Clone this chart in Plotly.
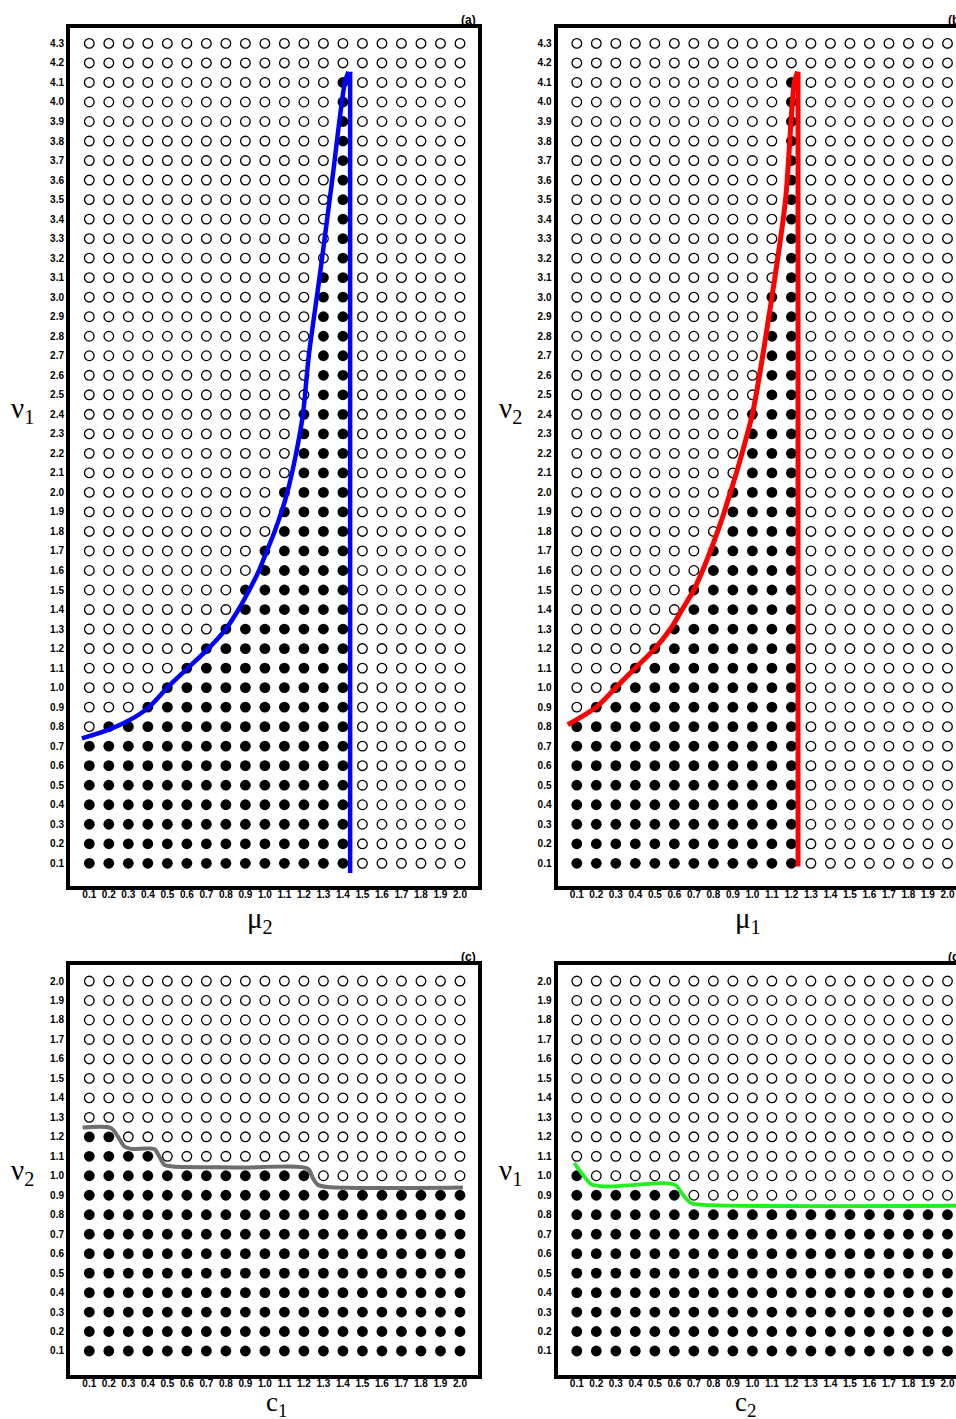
import plotly.graph_objects as go

# ---------------- data ----------------
grid_x = [0.1, 0.2, 0.3, 0.4, 0.5, 0.6, 0.7, 0.8, 0.9, 1.0,
          1.1, 1.2, 1.3, 1.4, 1.5, 1.6, 1.7, 1.8, 1.9, 2.0]
grid_y_top = [0.1, 0.2, 0.3, 0.4, 0.5, 0.6, 0.7, 0.8, 0.9, 1.0,
              1.1, 1.2, 1.3, 1.4, 1.5, 1.6, 1.7, 1.8, 1.9, 2.0,
              2.1, 2.2, 2.3, 2.4, 2.5, 2.6, 2.7, 2.8, 2.9, 3.0,
              3.1, 3.2, 3.3, 3.4, 3.5, 3.6, 3.7, 3.8, 3.9, 4.0,
              4.1, 4.2, 4.3]
grid_y_bot = [0.1, 0.2, 0.3, 0.4, 0.5, 0.6, 0.7, 0.8, 0.9, 1.0,
              1.1, 1.2, 1.3, 1.4, 1.5, 1.6, 1.7, 1.8, 1.9, 2.0]

# filled (stable) dots: first and last filled column per row (None = no filled dot)
a_first = [0.1] * 7 + [0.2, 0.4, 0.5, 0.6, 0.7, 0.8, 0.9, 0.9, 1.0, 1.0, 1.1, 1.1, 1.1] \
          + [1.2] * 4 + [1.3] * 7 + [1.4] * 10 + [None, None]
a_last = [1.4] * 41 + [None, None]

b_first = [0.1] * 8 + [0.2, 0.3, 0.4, 0.5, 0.6, 0.7, 0.7, 0.8, 0.8, 0.9, 0.9, 0.9] \
          + [1.0] * 4 + [1.1] * 6 + [1.2] * 11 + [None, None]
b_last = [1.2] * 41 + [None, None]

c_first = [0.1] * 12 + [None] * 8
c_last = [2.0] * 9 + [1.2, 0.4, 0.2] + [None] * 8

d_first = [0.1] * 10 + [None] * 10
d_last = [2.0] * 8 + [0.6, 0.1] + [None] * 10

# boundary curves
a_curve_x = [0.062, 0.2, 0.3, 0.4, 0.5, 0.605, 0.71, 0.8, 0.865, 0.92, 0.97, 1.01,
             1.05, 1.085, 1.115, 1.16, 1.195, 1.225, 1.28, 1.345, 1.41, 1.428]
a_curve_y = [0.74, 0.785, 0.83, 0.895, 1.0, 1.1, 1.2, 1.3, 1.4, 1.5, 1.6, 1.7,
             1.8, 1.9, 2.0, 2.2, 2.4, 2.7, 3.1, 3.6, 4.1, 4.155]
a_vline_x = [1.437, 1.437]
a_vline_y = [4.155, 0.05]

b_curve_x = [0.054, 0.2, 0.3, 0.4, 0.5, 0.58, 0.64, 0.7, 0.745, 0.785, 0.822, 0.856,
             0.887, 0.918, 0.947, 0.974, 1.0, 1.1, 1.17, 1.215, 1.232]
b_curve_y = [0.81, 0.9, 1.0, 1.1, 1.2, 1.3, 1.4, 1.5, 1.6, 1.7, 1.8, 1.9,
             2.0, 2.1, 2.2, 2.3, 2.4, 3.0, 3.5, 4.1, 4.155]
b_vline_x = [1.234, 1.234]
b_vline_y = [4.155, 0.083]

c_curve_x = [0.066, 0.211, 0.246, 0.28, 0.314, 0.433, 0.459, 0.485, 0.528, 0.878,
             1.22, 1.246, 1.271, 1.323, 2.015]
c_curve_y = [1.248, 1.245, 1.202, 1.15, 1.138, 1.137, 1.099, 1.056, 1.048, 1.043,
             1.036, 0.988, 0.954, 0.942, 0.94]

d_curve_x = [0.088, 0.131, 0.173, 0.242, 0.378, 0.549, 0.609, 0.644, 0.686, 0.754, 2.06]
d_curve_y = [1.065, 1.005, 0.957, 0.945, 0.952, 0.962, 0.95, 0.902, 0.86, 0.85, 0.846]

# ---------------- layout geometry ----------------
W, H = 956, 1419
LEFT_X = (70, 478)
RIGHT_X = (557.5, 956)
TOP_Y = (28, 886)
BOT_Y = (964.5, 1375)


def xdom(p):
    return [p[0] / W, p[1] / W]


def ydom(p):
    return [1 - p[1] / H, 1 - p[0] / H]


panels = [
    dict(ax='', xpx=LEFT_X, ypx=TOP_Y, xr=[0.0011, 2.0923], yr=[-0.0163, 4.379],
         gy=grid_y_top, first=a_first, last=a_last,
         curve=(a_curve_x, a_curve_y), vline=(a_vline_x, a_vline_y),
         color='#0000ff', lw=4.5, label='(a)', right=True,
         xt='μ<sub>2</sub>', yt='ν<sub>1</sub>', xtpos=(260, 920), ytpos=(22, 410), ts=29),
    dict(ax='2', xpx=RIGHT_X, ypx=TOP_Y, xr=[0.0011, 2.0436], yr=[-0.0163, 4.379],
         gy=grid_y_top, first=b_first, last=b_last,
         curve=(b_curve_x, b_curve_y), vline=(b_vline_x, b_vline_y),
         color='#ff0000', lw=5, label='(b)', right=False,
         xt='μ<sub>1</sub>', yt='ν<sub>2</sub>', xtpos=(748, 920), ytpos=(511, 410), ts=29),
    dict(ax='3', xpx=LEFT_X, ypx=BOT_Y, xr=[0.0011, 2.0923], yr=[-0.0233, 2.085],
         gy=grid_y_bot, first=c_first, last=c_last,
         curve=(c_curve_x, c_curve_y), vline=None,
         color='#6e6e6e', lw=4, label='(c)', right=True,
         xt='c<sub>1</sub>', yt='ν<sub>2</sub>', xtpos=(276, 1404), ytpos=(22, 1172), ts=27),
    dict(ax='4', xpx=RIGHT_X, ypx=BOT_Y, xr=[0.0011, 2.0436], yr=[-0.0233, 2.085],
         gy=grid_y_bot, first=d_first, last=d_last,
         curve=(d_curve_x, d_curve_y), vline=None,
         color='#22ee22', lw=3.8, label='(d)', right=False,
         xt='c<sub>2</sub>', yt='ν<sub>1</sub>', xtpos=(745, 1404), ytpos=(510, 1172), ts=27),
]

fig = go.Figure()
annotations = []
tickfont = dict(family='Liberation Sans', size=10, color='black', weight='bold')

for p in panels:
    xa = 'x' + p['ax']
    ya = 'y' + p['ax']
    fx, fy, ox, oy = [], [], [], []
    for yv, f, l in zip(p['gy'], p['first'], p['last']):
        for xv in grid_x:
            k = round(xv * 10)
            if f is not None and round(f * 10) <= k <= round(l * 10):
                fx.append(xv); fy.append(yv)
            else:
                ox.append(xv); oy.append(yv)
    fig.add_trace(go.Scatter(x=ox, y=oy, mode='markers', xaxis=xa, yaxis=ya,
                             marker=dict(symbol='circle', size=9.6, color='white',
                                         line=dict(color='black', width=1.3)),
                             hoverinfo='skip', showlegend=False, cliponaxis=False))
    fig.add_trace(go.Scatter(x=fx, y=fy, mode='markers', xaxis=xa, yaxis=ya,
                             marker=dict(symbol='circle', size=10.8, color='black',
                                         line=dict(width=0)),
                             hoverinfo='skip', showlegend=False, cliponaxis=False))
    cx, cy = p['curve']
    fig.add_trace(go.Scatter(x=cx, y=cy, mode='lines', xaxis=xa, yaxis=ya,
                             line=dict(color=p['color'], width=p['lw'], shape='spline', smoothing=0.8),
                             hoverinfo='skip', showlegend=False))
    if p['vline'] is not None:
        vx, vy = p['vline']
        fig.add_trace(go.Scatter(x=vx, y=vy, mode='lines', xaxis=xa, yaxis=ya,
                                 line=dict(color=p['color'], width=p['lw']),
                                 hoverinfo='skip', showlegend=False))

    xkey = 'xaxis' + p['ax']
    ykey = 'yaxis' + p['ax']
    fig.update_layout(**{
        xkey: dict(domain=xdom(p['xpx']), range=p['xr'], anchor=ya,
                   tickvals=grid_x, tickformat='.1f', tickfont=tickfont,
                   showgrid=False, zeroline=False, ticks='', ticklabelstandoff=-4,
                   showline=True, linewidth=4, linecolor='black', mirror=True),
        ykey: dict(domain=ydom(p['ypx']), range=p['yr'], anchor=xa,
                   tickvals=p['gy'], tickformat='.1f', tickfont=tickfont,
                   showgrid=False, zeroline=False, ticks='',
                   showline=True, linewidth=4, linecolor='black',
                   mirror=p['right']),
    })
    # panel label
    annotations.append(dict(text='<b>' + p['label'] + '</b>', xref='paper', yref='paper',
                            x=(p['xpx'][0] + 408) / W, y=1 - (p['ypx'][0] - 8) / H,
                            xanchor='right', yanchor='middle', showarrow=False,
                            font=dict(family='Liberation Sans', size=12, color='black')))
    annotations.append(dict(text=p['xt'], xref='paper', yref='paper',
                            x=p['xtpos'][0] / W, y=1 - p['xtpos'][1] / H,
                            xanchor='center', yanchor='middle', showarrow=False,
                            font=dict(family='Liberation Serif', size=p['ts'], color='black')))
    annotations.append(dict(text=p['yt'], xref='paper', yref='paper',
                            x=p['ytpos'][0] / W, y=1 - p['ytpos'][1] / H,
                            xanchor='center', yanchor='middle', showarrow=False,
                            font=dict(family='Liberation Serif', size=29, color='black')))

fig.update_layout(width=W, height=H, margin=dict(l=0, r=0, t=0, b=0),
                  paper_bgcolor='white', plot_bgcolor='white',
                  annotations=annotations, showlegend=False)

fig.write_html('out.html', config={'displayModeBar': False},
               post_script="document.body.style.margin='0';document.body.style.overflow='hidden';")
